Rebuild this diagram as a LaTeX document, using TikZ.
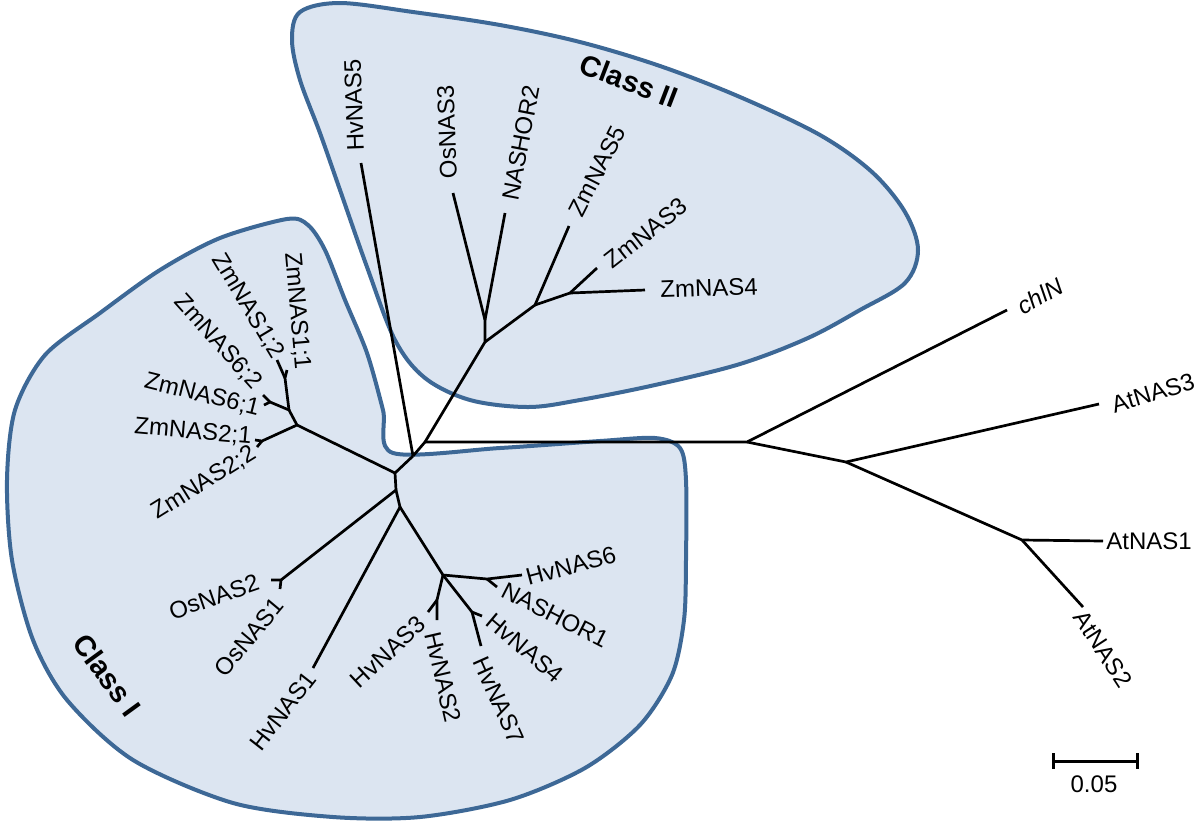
\documentclass[tikz,border=0pt]{standalone}
\usepackage{fontspec}
\setmainfont{Liberation Sans}
\definecolor{hullfill}{RGB}{220,229,241}
\definecolor{hullline}{RGB}{61,104,150}
\begin{document}
\begin{tikzpicture}[x=0.5pt,y=-0.5pt,
  hull/.style={fill=hullfill, draw=hullline, line width=2pt},
  br/.style={line width=1.35pt, line join=round, draw=black},
  lbl/.style={font=\fontsize{12}{14}\selectfont, inner sep=0pt},
  cls/.style={font=\fontsize{14.5}{16}\selectfont\bfseries, inner sep=0pt}]
\useasboundingbox (0,0) rectangle (1200,821);
% ---- hulls
\draw[hull] plot[smooth cycle, tension=0.55] coordinates {
 (300,12) (340,3) (413,12) (500,25) (580,42) (660,66) (740,97) (820,135)
 (872,172) (905,212) (918,250) (905,283) (860,310) (808,338) (740,364)
 (655,385) (580,400) (528,407) (470,400) (425,378) (395,340) (367,267)
 (340,190) (320,133) (300,80) (292,40)};
\draw[hull] plot[smooth cycle, tension=0.5] coordinates {
 (393,453) (500,448) (600,441) (655,438) (680,448) (686,480) (686,560)
 (684,620) (672,675) (640,725) (585,768) (510,800) (420,817) (333,817)
 (233,803) (133,760) (67,700) (33,640) (12,560) (7,480) (15,410) (45,355)
 (100,313) (160,270) (220,238) (287,219) (308,225) (325,250) (345,300)
 (367,353) (383,410)};
% ---- internal nodes
\coordinate (A) at (413,456);
\coordinate (B) at (425,442);
\coordinate (C2) at (485,342);
\coordinate (C2a) at (485,320);
\coordinate (C2b) at (535,305);
\coordinate (C2c) at (570,293);
\coordinate (N1) at (747,442);
\coordinate (N2) at (846,462);
\coordinate (N3) at (1022,540);
\coordinate (D) at (395,473);
\coordinate (K) at (297,425);
\coordinate (Z2) at (262,441);
\coordinate (L) at (289,410);
\coordinate (Z6) at (270,402);
\coordinate (M) at (285,378);
\coordinate (E) at (396,490);
\coordinate (OF) at (281,580);
\coordinate (F) at (400,507);
\coordinate (G) at (443,575);
\coordinate (H) at (487,579);
\coordinate (I) at (437,600);
\coordinate (J) at (472,612);
% ---- leaf tips
\coordinate (tHvNAS5) at (361,163);
\coordinate (tOsNAS3) at (453,193);
\coordinate (tNASHOR2) at (505,213);
\coordinate (tZmNAS5) at (569,226);
\coordinate (tZmNAS3) at (597,268);
\coordinate (tZmNAS4) at (645,290);
\coordinate (tchlN) at (1007,310);
\coordinate (tAtNAS3) at (1099,404);
\coordinate (tAtNAS1) at (1103,541);
\coordinate (tAtNAS2) at (1083,607);
\coordinate (tZm21) at (255,440);
\coordinate (tZm22) at (257,447);
\coordinate (tZm61) at (264,405);
\coordinate (tZm62) at (263,395);
\coordinate (tZm11) at (287,370);
\coordinate (tZm12) at (277,360);
\coordinate (tOsNAS2) at (271,580);
\coordinate (tOsNAS1) at (280,589);
\coordinate (tHvNAS1) at (313,668);
\coordinate (tHvNAS6) at (522,575);
\coordinate (tNASHOR1) at (497,587);
\coordinate (tHvNAS2) at (437,620);
\coordinate (tHvNAS3) at (428,612);
\coordinate (tHvNAS4) at (482,616);
\coordinate (tHvNAS7) at (481,646);
% ---- branches
\draw[br] (A) -- (B) -- (C2) -- (C2a) -- (tOsNAS3);
\draw[br] (C2a) -- (tNASHOR2);
\draw[br] (C2) -- (C2b) -- (tZmNAS5);
\draw[br] (C2b) -- (C2c) -- (tZmNAS3);
\draw[br] (C2c) -- (tZmNAS4);
\draw[br] (A) -- (tHvNAS5);
\draw[br] (B) -- (N1) -- (tchlN);
\draw[br] (N1) -- (N2) -- (tAtNAS3);
\draw[br] (N2) -- (N3) -- (tAtNAS1);
\draw[br] (N3) -- (tAtNAS2);
\draw[br] (A) -- (D) -- (K) -- (Z2) -- (tZm21);
\draw[br] (Z2) -- (tZm22);
\draw[br] (K) -- (L) -- (Z6) -- (tZm61);
\draw[br] (Z6) -- (tZm62);
\draw[br] (L) -- (M) -- (tZm11);
\draw[br] (M) -- (tZm12);
\draw[br] (D) -- (E) -- (OF) -- (tOsNAS2);
\draw[br] (OF) -- (tOsNAS1);
\draw[br] (E) -- (F) -- (tHvNAS1);
\draw[br] (F) -- (G) -- (H) -- (tHvNAS6);
\draw[br] (H) -- (tNASHOR1);
\draw[br] (G) -- (I) -- (tHvNAS2);
\draw[br] (I) -- (tHvNAS3);
\draw[br] (G) -- (J) -- (tHvNAS4);
\draw[br] (J) -- (tHvNAS7);
% ---- labels
\node[lbl, rotate=92] (lHvNAS5) at (354,105) {HvNAS5};
\node[lbl, rotate=92] (lOsNAS3) at (447,132) {OsNAS3};
\node[lbl, rotate=79] (lNASHOR2) at (521,143) {NASHOR2};
\node[lbl, rotate=63] (lZmNAS5) at (597,171) {ZmNAS5};
\node[lbl, rotate=38] (lZmNAS3) at (646,233) {ZmNAS3};
\node[lbl, rotate=2] (lZmNAS4) at (709,288) {ZmNAS4};
\node[cls, rotate=-21] (lClassII) at (629,81) {Class II};
\node[lbl, rotate=30] (lchlN) at (1040,296) {\textit{chlN}};
\node[lbl, rotate=17] (lAtNAS3) at (1153,393) {AtNAS3};
\node[lbl] (lAtNAS1) at (1149,541) {AtNAS1};
\node[lbl, rotate=-57] (lAtNAS2) at (1103,649) {AtNAS2};
\node[lbl, rotate=-85] (lZm11) at (297,311) {ZmNAS1;1};
\node[lbl, rotate=-59] (lZm12) at (248,306) {ZmNAS1;2};
\node[lbl, rotate=-48] (lZm62) at (218,342) {ZmNAS6;2};
\node[lbl, rotate=-14] (lZm61) at (202,395) {ZmNAS6;1};
\node[lbl, rotate=-5] (lZm21) at (193,432) {ZmNAS2;1};
\node[lbl, rotate=32] (lZm22) at (204,483) {ZmNAS2;2};
\node[lbl, rotate=19] (lOsNAS2) at (214,597) {OsNAS2};
\node[lbl, rotate=50] (lOsNAS1) at (249,637) {OsNAS1};
\node[lbl, rotate=52] (lHvNAS1) at (283,711) {HvNAS1};
\node[lbl, rotate=43] (lHvNAS3) at (388,652) {HvNAS3};
\node[lbl, rotate=-77] (lHvNAS2) at (443,677) {HvNAS2};
\node[lbl, rotate=-66] (lHvNAS7) at (499,700) {HvNAS7};
\node[lbl, rotate=-40] (lHvNAS4) at (525,648) {HvNAS4};
\node[lbl, rotate=-27] (lNASHOR1) at (555,615) {NASHOR1};
\node[lbl, rotate=15] (lHvNAS6) at (571,566) {HvNAS6};
\node[cls, rotate=-54] (lClassI) at (107,675) {Class I};
% ---- scale bar
\coordinate (sbL) at (1053,761);
\coordinate (sbR) at (1137,761);
\coordinate (sbLt) at (1053,753);
\coordinate (sbLb) at (1053,769);
\coordinate (sbRt) at (1137,753);
\coordinate (sbRb) at (1137,769);
\draw[line width=1.5pt] (sbL) -- (sbR);
\draw[line width=1.5pt] (sbLt) -- (sbLb);
\draw[line width=1.5pt] (sbRt) -- (sbRb);
\node[lbl] (lscale) at (1094,784) {0.05};
\end{tikzpicture}
\end{document}
